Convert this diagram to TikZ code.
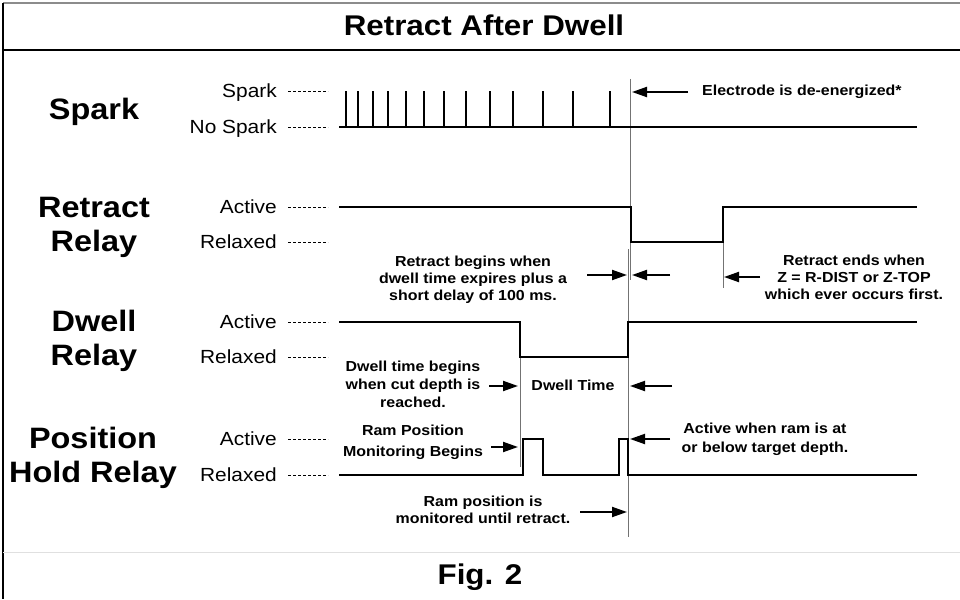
\documentclass[tikz,border=0pt]{standalone}
\usepackage{fontspec}
\setmainfont[FakeStretch=1.1]{Liberation Sans}
\usetikzlibrary{arrows.meta}

\begin{document}
\begin{tikzpicture}[x=1pt,y=-1pt,
    caption/.style={font=\fontsize{28.5}{32}\selectfont\bfseries, inner sep=0pt},
    head/.style={font=\fontsize{29.5}{34}\selectfont\bfseries, align=center, inner sep=0pt},
    lvl/.style={font=\fontsize{19}{22}\selectfont, anchor=east, inner sep=0pt},
    note/.style={font=\fontsize{14.5}{17}\selectfont\bfseries, align=center, inner sep=0pt},
    sig/.style={line width=2pt, line join=miter},
    guide/.style={line width=1pt, draw=black!55},
    lead/.style={line width=0.9pt, dash pattern=on 3pt off 2pt},
    ptr/.style={-{Triangle[length=15pt,width=10pt]}, line width=2pt},
    frame/.style={line width=1.5pt}
  ]
  \useasboundingbox (0,0) rectangle (960,599);
  \draw[frame, draw=black!45] (3,3) -- (960,3);
  \draw[frame] (3,3) -- (3,599);
  \draw[frame] (3,50) -- (960,50);
  \draw[line width=1pt, draw=black!12] (3,552) -- (960,552);
  \node[caption] (title) at (484,25) {Retract After Dwell};
  \node[caption] (fig) at (480,577) {Fig. 2};

  \node[head] (hspark) at (94,112) {Spark};
  \node[head] (hretract) at (94,227) {Retract\\Relay};
  \node[head] (hdwell) at (94,341) {Dwell\\Relay};
  \node[head] (hhold) at (93,458) {Position\\Hold Relay};

  \foreach \name/\txt/\y/\dy in {ls1/Spark/91/2, ls0/No Spark/127/2, lr1/Active/207/0, lr0/Relaxed/242/0,
      ld1/Active/322/0, ld0/Relaxed/357/0, lp1/Active/439/0, lp0/Relaxed/475/0} {
    \node[lvl] (\name) at (277,\y+\dy) {\txt};
    \draw[lead] (288,\y) -- (328,\y);
  }

  \draw[guide] (630.5,79) -- (630.5,280);
  \draw[guide] (628,249) -- (628,537);
  \draw[guide] (723,207) -- (723,288);
  \draw[guide] (520,357) -- (520,467);

  \draw[sig] (339,127) -- (917,127);
  \foreach \t in {346,358,373,388,406,424,444,466,490,513,543,573,610}
    \draw[sig] (\t,127) -- (\t,91);
  \draw[sig] (339,207) -- (630.5,207) -- (630.5,242) -- (723,242) -- (723,207) -- (917,207);
  \draw[sig] (339,322) -- (520,322) -- (520,357) -- (628,357) -- (628,322) -- (917,322);
  \draw[sig] (339,475) -- (523,475) -- (523,439) -- (543,439) -- (543,475) -- (619,475)
    -- (619,439) -- (628,439) -- (628,475) -- (917,475);

  \node[note, anchor=west] (electrode) at (702,92) {Electrode is de-energized*};
  \node[note] (rbegin) at (473,280) {Retract begins when\\dwell time expires plus a\\short delay of 100 ms.};
  \node[note] (rend) at (854,277) {Retract ends when\\Z = R-DIST or Z-TOP\\which ever occurs first.};
  \node[note, font=\fontsize{14.5}{18}\selectfont\bfseries] (dbegin) at (413,384) {Dwell time begins\\when cut depth is\\reached.};
  \node[note] (dtime) at (573,385) {Dwell Time};
  \node[note, font=\fontsize{14.5}{21}\selectfont\bfseries] (mbegin) at (413,442) {Ram Position\\Monitoring Begins};
  \node[note, font=\fontsize{14.5}{19}\selectfont\bfseries] (active) at (765,439) {Active when ram is at\\or below target depth.};
  \node[note] (monitor) at (483,510) {Ram position is\\monitored until retract.};

  \coordinate (e1) at (688,92);  \coordinate (e2) at (632,92);
  \coordinate (r1) at (587,275); \coordinate (r2) at (627,275);
  \coordinate (r3) at (670,275); \coordinate (r4) at (632,275);
  \coordinate (r5) at (760,277); \coordinate (r6) at (724,277);
  \coordinate (d1) at (489,386); \coordinate (d2) at (518,386);
  \coordinate (d3) at (672,386); \coordinate (d4) at (630,386);
  \coordinate (m1) at (491,447); \coordinate (m2) at (518,447);
  \coordinate (a1) at (670,439); \coordinate (a2) at (630,439);
  \coordinate (p1) at (580,512); \coordinate (p2) at (627,512);
  \foreach \s/\e in {e1/e2, r1/r2, r3/r4, r5/r6, d1/d2, d3/d4, m1/m2, a1/a2, p1/p2}
    \draw[ptr] (\s) -- (\e);
\end{tikzpicture}
\end{document}
